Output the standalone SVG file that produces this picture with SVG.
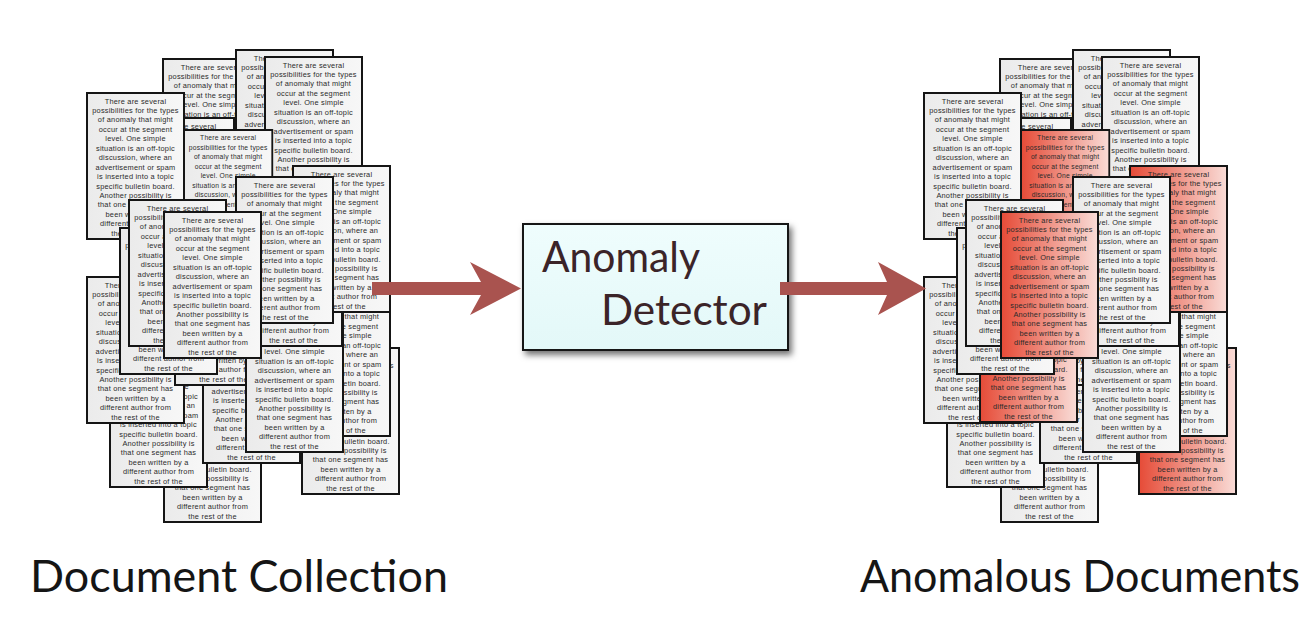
<svg xmlns="http://www.w3.org/2000/svg" width="1310" height="622" viewBox="0 0 1310 622">
  <style>
    .paper { fill: url(#paperFill); stroke: #151515; stroke-width: 2; }
    .flagged { fill: url(#flagFill); stroke: #151515; stroke-width: 2; }
    .pt { font-family: "Liberation Sans", Arial, sans-serif; font-size: 7.4px; letter-spacing: 0.22px; fill: #2b2b2b; text-anchor: middle; }
    .caption { font-family: Lato, "Liberation Sans", Arial, sans-serif; font-size: 44px; fill: #151515; }
    .det { font-family: Lato, "Liberation Sans", Arial, sans-serif; font-size: 42px; fill: #3b2428; }
    .flow { fill: #a9534f; }
    .detbox { fill: url(#detFill); stroke: #141414; stroke-width: 2; }
  </style>
  <defs>
    <linearGradient id="paperFill" x1="0" y1="0" x2="1" y2="0">
      <stop offset="0" stop-color="#ebebeb"/>
      <stop offset="1" stop-color="#f7f7f7"/>
    </linearGradient>
    <linearGradient id="flagFill" x1="0" y1="0" x2="1" y2="0">
      <stop offset="0" stop-color="#e64b37"/>
      <stop offset="1" stop-color="#f9dcd7"/>
    </linearGradient>
    <linearGradient id="detFill" x1="0" y1="0" x2="0" y2="1">
      <stop offset="0" stop-color="#effdfd"/>
      <stop offset="1" stop-color="#e3f8f8"/>
    </linearGradient>
    <filter id="shadow" x="-10%" y="-10%" width="125%" height="135%">
      <feDropShadow dx="3" dy="4" stdDeviation="3" flood-color="#000" flood-opacity="0.55"/>
    </filter>

    <!-- the paragraph printed on every page -->
    <g id="page-text" class="pt">
      <text x="48.5" y="10.5">There are several</text>
      <text x="48.5" y="19.95">possibilities for the types</text>
      <text x="48.5" y="29.4">of anomaly that might</text>
      <text x="48.5" y="38.85">occur at the segment</text>
      <text x="48.5" y="48.3">level. One simple</text>
      <text x="48.5" y="57.75">situation is an off-topic</text>
      <text x="48.5" y="67.2">discussion, where an</text>
      <text x="48.5" y="76.65">advertisement or spam</text>
      <text x="48.5" y="86.1">is inserted into a topic</text>
      <text x="48.5" y="95.55">specific bulletin board.</text>
      <text x="48.5" y="105">Another possibility is</text>
      <text x="48.5" y="114.45">that one segment has</text>
      <text x="48.5" y="123.9">been written by a</text>
      <text x="48.5" y="133.35">different author from</text>
      <text x="48.5" y="142.8">the rest of the</text>
    </g>
    <!-- plain page and flagged page -->
    <g id="page">
      <rect class="paper" x="0" y="0" width="97" height="146"/>
      <use href="#page-text"/>
    </g>
    <g id="page-flag">
      <rect class="flagged" x="0" y="0" width="97" height="146"/>
      <use href="#page-text"/>
    </g>
  </defs>

  <rect x="0" y="0" width="1310" height="622" fill="#ffffff"/>

  <!-- input collection, back to front -->
  <g id="collection">
    <g id="doc-l02"><use href="#page" x="163" y="59"/></g>
    <g id="doc-l04"><use href="#page" x="236" y="50"/></g>
    <g id="doc-l05"><use href="#page" x="265" y="57"/></g>
    <g id="doc-l03"><use href="#page" x="137" y="118"/></g>
    <g id="doc-l06"><use href="#page" transform="translate(184,130) scale(0.91,1)"/></g>
    <g id="doc-l01"><use href="#page" x="87" y="93"/></g>
    <g id="doc-l15"><use href="#page" x="164" y="376"/></g>
    <g id="doc-l21"><use href="#page" x="143" y="276"/></g>
    <g id="doc-l14"><use href="#page" x="110" y="341"/></g>
    <g id="doc-l13"><use href="#page" x="87" y="277"/></g>
    <g id="doc-l19"><use href="#page" x="302" y="348"/></g>
    <g id="doc-l20"><use href="#page" x="293" y="290"/></g>
    <g id="doc-l16"><use href="#page" x="203" y="317"/></g>
    <g id="doc-l12"><use href="#page" x="175" y="239"/></g>
    <g id="doc-l17"><use href="#page" x="246" y="306"/></g>
    <g id="doc-l18"><use href="#page" x="245" y="200"/></g>
    <g id="doc-l07"><use href="#page" x="293" y="166"/></g>
    <g id="doc-l08"><use href="#page" x="236" y="177"/></g>
    <g id="doc-l11"><use href="#page" x="120" y="228"/></g>
    <g id="doc-l09"><use href="#page" x="129" y="200"/></g>
    <g id="doc-l10"><use href="#page" x="164" y="212"/></g>
  </g>

  <!-- detector -->
  <g id="detector">
    <rect class="detbox" x="523" y="224" width="265" height="126" filter="url(#shadow)"/>
    <text class="det" x="542" y="272" textLength="158" lengthAdjust="spacingAndGlyphs">Anomaly</text>
    <text class="det" x="601" y="325" textLength="166" lengthAdjust="spacingAndGlyphs">Detector</text>
  </g>

  <!-- output collection, flagged pages in red -->
  <g id="anomalous" transform="translate(837,0)">
    <g id="doc-r02"><use href="#page" x="163" y="59"/></g>
    <g id="doc-r04"><use href="#page" x="236" y="50"/></g>
    <g id="doc-r05"><use href="#page" x="265" y="57"/></g>
    <g id="doc-r03"><use href="#page" x="137" y="118"/></g>
    <g id="doc-r06"><use href="#page-flag" transform="translate(184,130) scale(0.91,1)"/></g>
    <g id="doc-r01"><use href="#page" x="87" y="93"/></g>
    <g id="doc-r15"><use href="#page" x="164" y="376"/></g>
    <g id="doc-r14"><use href="#page" x="110" y="341"/></g>
    <g id="doc-r13"><use href="#page" x="87" y="277"/></g>
    <g id="doc-r19"><use href="#page-flag" x="302" y="348"/></g>
    <g id="doc-r20"><use href="#page" x="293" y="290"/></g>
    <g id="doc-r16"><use href="#page" x="203" y="317"/></g>
    <g id="doc-r12"><use href="#page" x="175" y="239"/></g>
    <g id="doc-r21"><use href="#page-flag" x="143" y="276"/></g>
    <g id="doc-r17"><use href="#page" x="246" y="306"/></g>
    <g id="doc-r18"><use href="#page" x="245" y="200"/></g>
    <g id="doc-r07"><use href="#page-flag" x="293" y="166"/></g>
    <g id="doc-r08"><use href="#page" x="236" y="177"/></g>
    <g id="doc-r11"><use href="#page" x="120" y="228"/></g>
    <g id="doc-r09"><use href="#page" x="129" y="200"/></g>
    <g id="doc-r10"><use href="#page-flag" x="164" y="212"/></g>
  </g>

  <!-- flow arrows -->
  <g id="connectors">
    <path class="flow" d="M372,282 H481 L470,262 L521,288.5 L470,315 L481,295 H372 Z"/>
    <path class="flow" d="M780,282 H887 L878,262 L926,288.5 L878,315 L887,295 H780 Z"/>
  </g>

  <!-- captions -->
  <g id="caption-input">
    <text class="caption" x="30" y="592" textLength="418" lengthAdjust="spacingAndGlyphs">Document Collection</text>
  </g>
  <g id="caption-output">
    <text class="caption" x="860" y="592" textLength="440" lengthAdjust="spacingAndGlyphs">Anomalous Documents</text>
  </g>
</svg>
